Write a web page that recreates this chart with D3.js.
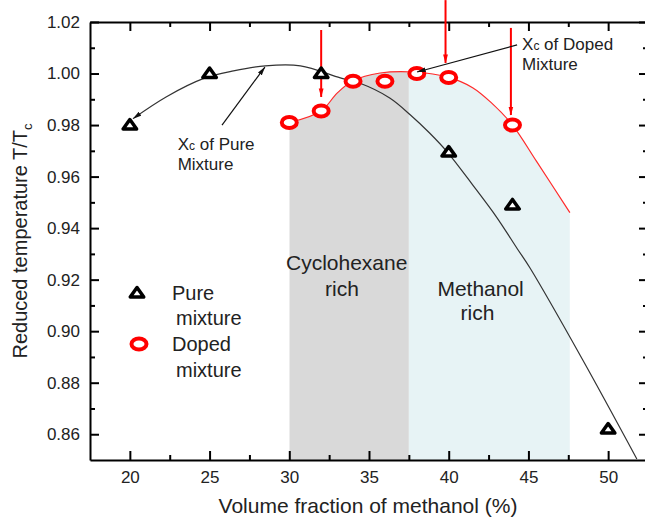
<!DOCTYPE html>
<html>
<head>
<meta charset="utf-8">
<script src="https://cdn.jsdelivr.net/npm/d3@7"></script>
<style>
body { margin: 0; background: #fff; }
svg { display: block; font-family: Arial, "Liberation Sans", sans-serif; }
</style>
</head>
<body>
<div id="chart"></div>
<script>
var width = 645, height = 518;
var margin = {"left": 90, "right": -3, "top": 22, "bottom": 58};

// measured points
var pureX = [20, 25, 32, 40, 44, 50];
var pureY = [0.980, 1.000, 1.000, 0.9695, 0.949, 0.862];
var dopedX = [30, 32, 34, 36, 38, 40, 44];
var dopedY = [0.981, 0.9855, 0.997, 0.997, 1.000, 0.9985, 0.980];

// fitted curves
var pureFitX = [20.2, 22.3, 24.6, 26.5, 28.5, 30.7, 33.2, 34.4, 36.3, 37.6, 38.8, 39.9, 41.5, 43.0, 44.3, 45.1, 48.4, 51.8];
var pureFitY = [0.9825, 0.991, 0.998, 1.001, 1.003, 1.003, 0.9983, 0.9963, 0.9905, 0.9839, 0.9769, 0.9696, 0.9568, 0.9443, 0.9320, 0.9245, 0.8889, 0.8504];
var dopedFitX = [30, 32, 33, 34, 35.7, 37.8, 40, 41.5, 42.7, 44, 45.5, 47.6];
var dopedFitY = [0.981, 0.9855, 0.9924, 0.9972, 1.0002, 1.0006, 0.9985, 0.9945, 0.9885, 0.980, 0.966, 0.946];

// shaded composition ranges
var regionNames = ["Cyclohexane rich", "Methanol rich"];
var regionStart = [30, 37.5];
var regionEnd = [37.5, 47.6];
var regionFill = ["#d9d9d9", "#e7f3f5"];

// critical point arrows
var arrowX = [32.0, 39.8, 43.9];
var arrowTop = [1.0169, 1.0285, 1.0177];
var arrowTip = [0.9909, 1.0041, 0.9839];

var xTicks = [20, 25, 30, 35, 40, 45, 50];
var xMinor = [22.5, 27.5, 32.5, 37.5, 42.5, 47.5];
var yTicks = [0.86, 0.88, 0.90, 0.92, 0.94, 0.96, 0.98, 1.00, 1.02];
var yMinor = [0.87, 0.89, 0.91, 0.93, 0.95, 0.97, 0.99, 1.01];

var x = d3.scaleLinear().domain([17.5, 52.5]).range([margin.left, width - margin.right]);
var y = d3.scaleLinear().domain([0.85, 1.02]).range([height - margin.bottom, margin.top]);

var svg = d3.select("#chart").append("svg")
            .attr("width", width)
            .attr("height", height);

var defs = svg.append("defs");
function arrowHead(id, color)
{
  defs.append("marker")
      .attr("id", id)
      .attr("markerUnits", "userSpaceOnUse")
      .attr("markerWidth", 9)
      .attr("markerHeight", 6)
      .attr("refX", 8.5)
      .attr("refY", 3)
      .attr("orient", "auto-start-reverse")
      .append("path")
      .attr("d", "M0,0.6L9,3L0,5.4Z")
      .attr("fill", color);
}
arrowHead("headRed", "#ff0000");
arrowHead("headBlack", "#111");

var smooth = d3.curveCatmullRom.alpha(0.5);

// areas under the doped fit, one clip per region
var fitPts = dopedFitX.map(function(d, i) { return [d, dopedFitY[i]]; });
var area = d3.area()
             .x(function(d) { return x(d[0]); })
             .y0(y(0.85))
             .y1(function(d) { return y(d[1]); })
             .curve(smooth);

regionNames.forEach(function(name, i)
{
  defs.append("clipPath").attr("id", "clip" + i)
      .append("rect")
      .attr("x", x(regionStart[i]))
      .attr("y", 0)
      .attr("width", x(regionEnd[i]) - x(regionStart[i]))
      .attr("height", height);
  svg.append("path")
     .datum(fitPts)
     .attr("d", area)
     .attr("fill", regionFill[i])
     .attr("clip-path", "url(#clip" + i + ")");
});

// region labels
var regionLabel = [
  {lines: ["Cyclohexane", "rich"], cx: [33.6, 33.3], cy: [0.9237, 0.9137]},
  {lines: ["Methanol", "rich"], cx: [42.0, 41.8], cy: [0.9137, 0.9044]}
];
regionLabel.forEach(function(r)
{
  r.lines.forEach(function(t, j)
  {
    svg.append("text")
       .attr("x", x(r.cx[j]))
       .attr("y", y(r.cy[j]))
       .attr("text-anchor", "middle")
       .attr("font-size", 21)
       .attr("fill", "#222")
       .text(t);
  });
});

// fitted lines
var line = d3.line()
             .x(function(d) { return x(d[0]); })
             .y(function(d) { return y(d[1]); })
             .curve(smooth);

svg.append("path")
   .datum(pureFitX.map(function(d, i) { return [d, pureFitY[i]]; }))
   .attr("d", line)
   .attr("fill", "none")
   .attr("stroke", "#333")
   .attr("stroke-width", 1.2)
   .attr("marker-start", "url(#headBlack)");

svg.append("path")
   .datum(fitPts)
   .attr("d", line)
   .attr("fill", "none")
   .attr("stroke", "#ff2a2a")
   .attr("stroke-width", 1.2);

// axes
function drawAxis(gen, tx, ty, showDomain)
{
  var g = svg.append("g")
             .attr("transform", "translate(" + tx + "," + ty + ")")
             .call(gen);
  if(!showDomain) g.select(".domain").remove();
  g.selectAll(".domain").attr("stroke", "#000").attr("stroke-width", 2);
  g.selectAll(".tick line").attr("stroke", "#000").attr("stroke-width", 2);
  g.selectAll("text").attr("fill", "#222").attr("font-size", 17).attr("font-family", null);
  return g;
}

var yBot = y(0.85), yTop = y(1.02), xL = x(17.5), xR = x(52.5);

drawAxis(d3.axisBottom(x).tickValues(xTicks).tickSize(-9).tickSizeOuter(0).tickPadding(11).tickFormat(d3.format("d")), 0, yBot, true);
drawAxis(d3.axisBottom(x).tickValues(xMinor).tickSize(-5).tickFormat(""), 0, yBot, false);
drawAxis(d3.axisTop(x).tickValues(xTicks).tickSize(-9).tickSizeOuter(0).tickFormat(""), 0, yTop, true);
drawAxis(d3.axisTop(x).tickValues(xMinor).tickSize(-5).tickFormat(""), 0, yTop, false);
drawAxis(d3.axisLeft(y).tickValues(yTicks).tickSize(-9).tickSizeOuter(0).tickPadding(10).tickFormat(d3.format(".2f")), xL, 0, true);
drawAxis(d3.axisLeft(y).tickValues(yMinor).tickSize(-5).tickFormat(""), xL, 0, false);
drawAxis(d3.axisRight(y).tickValues(yTicks).tickSize(-9).tickSizeOuter(0).tickFormat(""), xR, 0, true);
drawAxis(d3.axisRight(y).tickValues(yMinor).tickSize(-5).tickFormat(""), xR, 0, false);

// axis titles
svg.append("text")
   .attr("x", 368)
   .attr("y", 513)
   .attr("text-anchor", "middle")
   .attr("font-size", 21)
   .attr("fill", "#222")
   .text("Volume fraction of methanol (%)");

var yTitle = svg.append("text")
                .attr("transform", "translate(27," + 241 + ") rotate(-90)")
                .attr("text-anchor", "middle")
                .attr("font-size", 20)
                .attr("fill", "#222");
yTitle.append("tspan").text("Reduced temperature T/T");
yTitle.append("tspan").attr("font-size", 13).attr("dy", 5).text("c");

// red arrows pointing at the doped critical points
arrowX.forEach(function(d, i)
{
  svg.append("line")
     .attr("x1", x(d)).attr("x2", x(d))
     .attr("y1", y(arrowTop[i])).attr("y2", y(arrowTip[i]))
     .attr("stroke", "#ff0000")
     .attr("stroke-width", 2)
     .attr("marker-end", "url(#headRed)");
});

// markers
var triPath = "M0,-5.5L6.75,4L-6.75,4Z";

svg.selectAll(".pure")
   .data(pureX.map(function(d, i) { return [d, pureY[i]]; }))
   .enter().append("path")
   .attr("class", "pure")
   .attr("d", triPath)
   .attr("transform", function(d) { return "translate(" + x(d[0]) + "," + y(d[1]) + ")"; })
   .attr("fill", "#fff")
   .attr("stroke", "#000")
   .attr("stroke-width", 3.5)
   .attr("stroke-linejoin", "round");

svg.selectAll(".doped")
   .data(dopedX.map(function(d, i) { return [d, dopedY[i]]; }))
   .enter().append("ellipse")
   .attr("class", "doped")
   .attr("cx", function(d) { return x(d[0]); })
   .attr("cy", function(d) { return y(d[1]); })
   .attr("rx", 7.5)
   .attr("ry", 5.5)
   .attr("fill", "#fff")
   .attr("stroke", "#ff0000")
   .attr("stroke-width", 4);

// annotations
var notes = [
  {tx: 23.0, ty: 0.9703, line2: "Mixture", word: " of Pure", from: [25.78, 0.9800], to: [28.47, 1.0025]},
  {tx: 44.6, ty: 1.0091, line2: "Mixture", word: " of Doped", from: [44.29, 1.0111], to: [38.02, 1.0006]}
];
notes.forEach(function(n)
{
  svg.append("line")
     .attr("x1", x(n.from[0])).attr("y1", y(n.from[1]))
     .attr("x2", x(n.to[0])).attr("y2", y(n.to[1]))
     .attr("stroke", "#111")
     .attr("stroke-width", 1.2)
     .attr("marker-end", "url(#headBlack)");
  var t = svg.append("text")
             .attr("x", x(n.tx))
             .attr("y", y(n.ty))
             .attr("font-size", 17)
             .attr("fill", "#222");
  t.append("tspan").text("X");
  t.append("tspan").attr("font-size", 12).text("c");
  t.append("tspan").text(n.word);
  svg.append("text")
     .attr("x", x(n.tx))
     .attr("y", y(n.ty) + 20)
     .attr("font-size", 17)
     .attr("fill", "#222")
     .text(n.line2);
});

// legend
var legend = svg.append("g");
legend.append("path")
      .attr("d", triPath)
      .attr("transform", "translate(137,293)")
      .attr("fill", "#fff")
      .attr("stroke", "#000")
      .attr("stroke-width", 3.5)
      .attr("stroke-linejoin", "round");
legend.append("ellipse")
      .attr("cx", 139).attr("cy", 344)
      .attr("rx", 7.5).attr("ry", 5.5)
      .attr("fill", "#fff")
      .attr("stroke", "#ff0000")
      .attr("stroke-width", 4);
var legendText = [["Pure", 172, 300], ["mixture", 176, 325], ["Doped", 172, 351], ["mixture", 176, 377]];
legendText.forEach(function(d)
{
  legend.append("text")
        .attr("x", d[1]).attr("y", d[2])
        .attr("font-size", 20)
        .attr("fill", "#222")
        .text(d[0]);
});
</script>
</body>
</html>
